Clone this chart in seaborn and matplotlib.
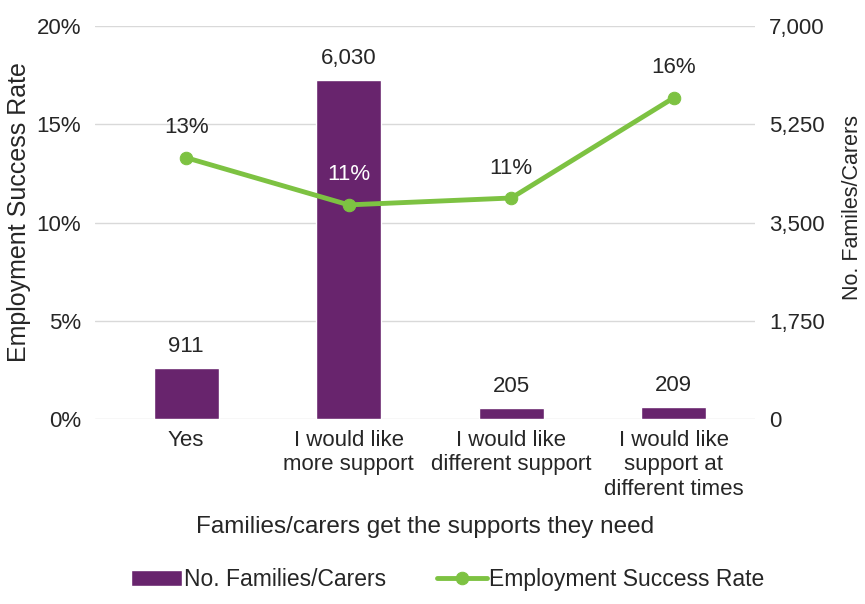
import pandas as pd
import matplotlib.pyplot as plt
import matplotlib.ticker as mticker
import seaborn as sns

#%% Dados
categorias = ['Yes', 'I would like\nmore support', 'I would like\ndifferent support',
              'I would like\nsupport at\ndifferent times']
n_familias = [911, 6030, 205, 209]
taxa_sucesso = [13.3, 10.9, 11.25, 16.35]
rotulos_taxa = ['13%', '11%', '11%', '16%']

roxo = '#68246D'
verde = '#7DC242'

df = pd.DataFrame({'cat': categorias, 'n': n_familias, 'taxa': taxa_sucesso})

sns.set_style('white')
plt.rcParams['font.family'] = ['Liberation Sans', 'DejaVu Sans']

#%% Gráfico
fig, ax = plt.subplots(figsize=(8.65, 6.04), dpi=100)
fig.subplots_adjust(left=0.11, right=0.873, top=0.957, bottom=0.306)

sns.barplot(x='cat', y='n', data=df, color=roxo, width=0.4, saturation=1, ax=ax,
            label='No. Families/Carers')
ax2 = ax.twinx()

ax.set_ylim(0, 7000)
ax.yaxis.set_major_locator(mticker.MultipleLocator(1750))
ax.yaxis.set_major_formatter(mticker.FuncFormatter(lambda v, p: f'{v:,.0f}'))
ax.set_ylabel('')
ax.set_xlabel('Families/carers get the supports they need', fontsize=17.5, labelpad=12)
ax.grid(axis='y', color='#D9D9D9', linewidth=1)
ax.set_axisbelow(True)
for s in ax.spines.values():
    s.set_visible(False)
ax.tick_params(axis='both', length=0, labelsize=16, pad=8)
ax.tick_params(axis='y', left=False, labelleft=False, right=False, labelright=True, pad=10)

for i, v in enumerate(n_familias):
    ax.annotate(f'{v:,}', (i, v), xytext=(0, 8), textcoords='offset points',
                ha='center', va='bottom', fontsize=16, color='#262626')

sns.lineplot(x=range(len(categorias)), y=taxa_sucesso, color=verde, linewidth=3.5,
             marker='o', markersize=9, markeredgecolor=verde, ax=ax2,
             label='Employment Success Rate')
ax2.set_ylim(0, 20)
ax2.yaxis.set_major_locator(mticker.MultipleLocator(5))
ax2.yaxis.set_major_formatter(mticker.FuncFormatter(lambda v, p: f'{v:.0f}%'))
for s in ax2.spines.values():
    s.set_visible(False)
ax2.tick_params(axis='y', length=0, labelsize=16, left=False, labelleft=True,
                right=False, labelright=False, pad=10)
ax2.set_ylabel('')
ax2.set_xlim(-0.56, 3.5)
ax.set_xlim(-0.56, 3.5)

# Rótulos dos eixos y
fig.text(0.022, 0.649, 'Employment Success Rate', rotation=90, ha='center', va='center',
         fontsize=18)
fig.text(0.985, 0.657, 'No. Familes/Carers', rotation=90, ha='center', va='center',
         fontsize=15.5)

for i, (v, r) in enumerate(zip(taxa_sucesso, rotulos_taxa)):
    cor = 'white' if i == 1 else '#262626'
    ax2.annotate(r, (i, v), xytext=(0, 14), textcoords='offset points',
                 ha='center', va='bottom', fontsize=16, color=cor)

# Legenda
h1, l1 = ax.get_legend_handles_labels()
h2, l2 = ax2.get_legend_handles_labels()
ax2.get_legend().remove()
if ax.get_legend():
    ax.get_legend().remove()
fig.legend(h1 + h2, l1 + l2, loc='lower center', bbox_to_anchor=(0.518, -0.012), ncol=2,
           frameon=False, fontsize=16.5, handlelength=2.2, handletextpad=0.1,
           columnspacing=2.2)

fig.savefig('out.png', dpi=100)
